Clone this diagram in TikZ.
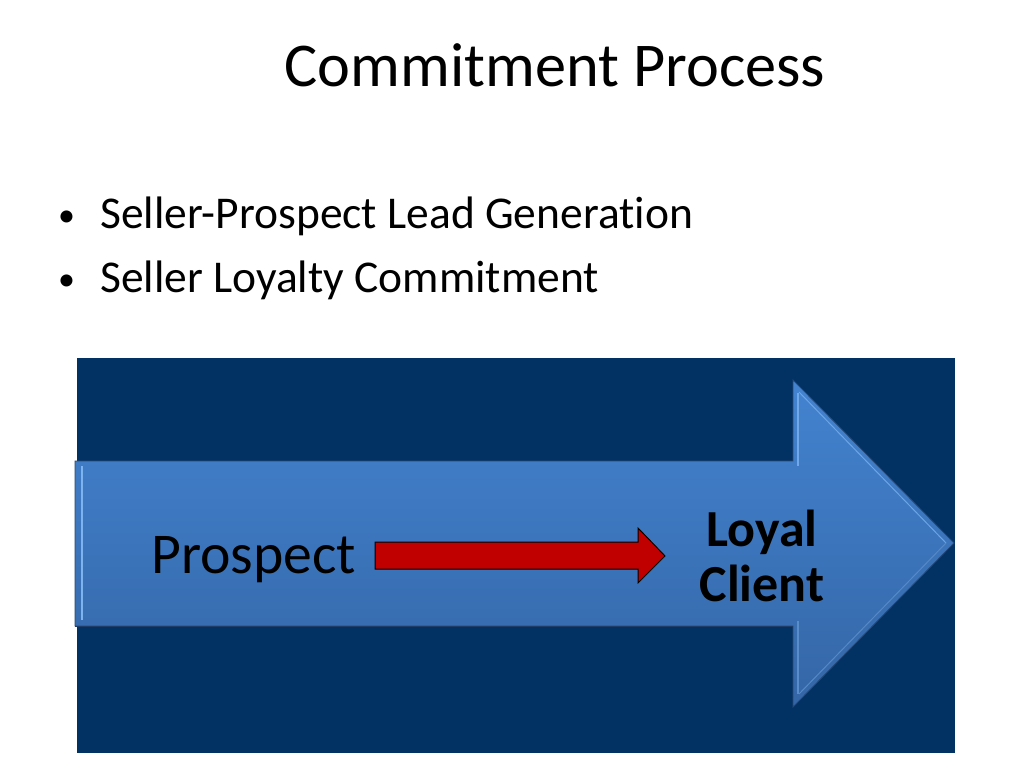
\documentclass[tikz,border=0pt]{standalone}
\usepackage{fontspec}
\setmainfont{Carlito}[Ligatures={NoCommon}]
\definecolor{boxblue}{HTML}{023263}
\definecolor{arrtop}{HTML}{4383D0}
\definecolor{arrbot}{HTML}{3466A6}
\definecolor{redfill}{HTML}{C00000}
\definecolor{bevel}{HTML}{7DB3EE}
\tikzset{
  txt/.style={inner sep=0pt, anchor=base west, text=black},
  bul/.style={inner sep=0pt, anchor=base west, font=\fontsize{45.5}{46}\selectfont},
  bigarrow/.style={shade, top color=arrtop, bottom color=arrbot, draw=arrbot!70!black, line width=0.8pt},
  redarrow/.style={fill=redfill, draw=black, line width=1pt, line join=miter},
}
\begin{document}
\begin{tikzpicture}[x=1pt,y=-1pt]
\useasboundingbox[fill=white] (0,0) rectangle (1024,768);
% title
\node[inner sep=0pt, anchor=base, font=\fontsize{62.3}{63}\selectfont] (title) at (555,86) {Commitment Process};
% bullets
\node[bul] (b1) at (100,228) {Seller-Prospect Lead Generation};
\node[bul] (b2) at (100,292) {Seller Loyalty Commitment};
\node[inner sep=0pt, anchor=base west, font=\fontsize{34}{34}\selectfont] (d1) at (58,226) {•};
\node[inner sep=0pt, anchor=base west, font=\fontsize{34}{34}\selectfont] (d2) at (58,290) {•};
% dark box
\fill[boxblue] (77,358) rectangle (955,753);
% big arrow
\path[bigarrow] (75,461) -- (793,461) -- (793,380) -- (954,543) -- (793,707) -- (793,626) -- (75,626) -- cycle;
% bevel highlights
\draw[bevel, line width=1.5pt] (82,466) -- (82,620);
\draw[bevel!80!arrtop, line width=1.5pt] (798,393) -- (798,466);
\draw[bevel!50!arrbot, line width=1.5pt] (798,621) -- (798,694);
\draw[bevel!70!arrtop, line width=1pt] (799,392) -- (946,543);
\draw[bevel!45!arrbot, line width=1pt] (946,543) -- (799,694);
\draw[arrbot!60!black, line width=1pt] (75,626) -- (793,626);
% texts
\node[txt, font=\fontsize{57.7}{58}\selectfont] (prospect) at (151,573) {Prospect};
\node[inner sep=0pt, font=\bfseries\fontsize{52}{55}\selectfont, align=center] (loyal) at (762,556) {Loyal\\Client};
% red arrow
\coordinate (rs) at (375,556);
\coordinate (re) at (665,556);
\path[redarrow] (rs) ++(0,-14) -- ++(263,0) -- ++(0,-14) -- (re) -- ++(-27,27) -- ++(0,-14) -- ++(-263,0) -- cycle;
\end{tikzpicture}
\end{document}
